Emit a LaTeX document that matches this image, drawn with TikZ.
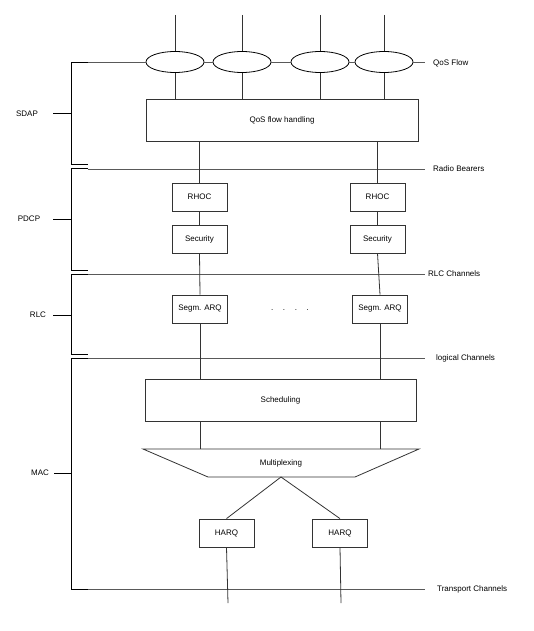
\documentclass[tikz,border=0pt]{standalone}
\usepackage{fontspec}
\setmainfont{Liberation Sans}
\usetikzlibrary{shapes.geometric}

\begin{document}
\begin{tikzpicture}[x=1pt, y=-1pt, font=\fontsize{8}{10}\selectfont,
	block/.style={draw=black!80, line width=0.8pt, inner sep=0pt, minimum width=55pt, minimum height=28pt},
	bigblock/.style={block, minimum width=272pt, minimum height=42pt},
	flow/.style={ellipse, draw=black, line width=0.8pt, inner sep=0pt, minimum width=58pt, minimum height=21pt},
	link/.style={draw=black!80, line width=0.8pt},
	channel/.style={draw=black!65, line width=0.9pt},
	bracket/.style={draw=black, line width=1pt},
	chlabel/.style={anchor=west, inner sep=0pt}]
\useasboundingbox (0,0) rectangle (534,631);

% Schichten links
\begin{scope}[bracket]
	\draw (88,63) -- (71,63) -- (71,165) -- (88,165);
	\draw (71,114) -- (53,114);
	\draw (88,169) -- (71,169) -- (71,270) -- (88,270);
	\draw (71,219) -- (53,219);
	\draw (88,274) -- (71,274) -- (71,354) -- (88,354);
	\draw (71,315) -- (53,315);
	\draw (88,358) -- (71,358) -- (71,589) -- (88,589);
	\draw (71,473) -- (54,473);
\end{scope}
\node (sdap) at (27,114) {SDAP};
\node (pdcp) at (29,219) {PDCP};
\node (rlc) at (38,315) {RLC};
\node (mac) at (40,473) {MAC};

% Kanaele
\begin{scope}[channel]
	\draw (88,169) -- (425,169);
	\draw (88,274) -- (425,274);
	\draw (88,358) -- (425,358);
	\draw (88,589) -- (425,589);
\end{scope}
\node[chlabel] (qfl) at (433,63) {QoS Flow};
\node[chlabel] (rbl) at (433,169) {Radio Bearers};
\node[chlabel] (rcl) at (428,274) {RLC Channels};
\node[chlabel] (lcl) at (436,358) {logical Channels};
\node[chlabel] (tcl) at (437,589) {Transport Channels};

% SDAP
\node[flow] (f1) at (175,62) {};
\node[flow] (f2) at (242,62) {};
\node[flow] (f3) at (320,62) {};
\node[flow] (f4) at (384,62) {};
\node[bigblock] (qos) at (282,120) {QoS flow handling};
\coordinate (t1) at (175,15);
\coordinate (t2) at (242,15);
\coordinate (t3) at (320,15);
\coordinate (t4) at (384,15);
\coordinate (qosL) at (88,62);
\coordinate (qosR) at (425,62);
\begin{scope}[channel]
	\draw (qosL) -- (f1.west);
	\draw (f1.east) -- (f2.west);
	\draw (f2.east) -- (f3.west);
	\draw (f3.east) -- (f4.west);
	\draw (f4.east) -- (qosR);
\end{scope}
\begin{scope}[link]
	\draw (t1) -- (f1.north);
	\draw (t2) -- (f2.north);
	\draw (t3) -- (f3.north);
	\draw (t4) -- (f4.north);
	\draw (f1.south) -- (f1 |- qos.north);
	\draw (f2.south) -- (f2 |- qos.north);
	\draw (f3.south) -- (f3 |- qos.north);
	\draw (f4.south) -- (f4 |- qos.north);
\end{scope}

% PDCP und RLC
\node[block] (rhoc1) at (199.5,197) {RHOC};
\node[block] (rhoc2) at (377.5,197) {RHOC};
\node[block] (sec1) at (199.5,239) {Security};
\node[block] (sec2) at (377.5,239) {Security};
\node[block] (arq1) at (200,309) {Segm. ARQ};
\node[block] (arq2) at (380,309) {Segm. ARQ};
\node (dots) at (290,310) {.\hspace{1.2em}.\hspace{1.2em}.\hspace{1.2em}.};
\begin{scope}[link]
	\draw (rhoc1 |- qos.south) -- (rhoc1.north);
	\draw (rhoc2 |- qos.south) -- (rhoc2.north);
	\draw (rhoc1.south) -- (sec1.north);
	\draw (rhoc2.south) -- (sec2.north);
	\draw (sec1.south) -- (arq1.north);
	\draw (sec2.south) -- (arq2.north);
\end{scope}

% MAC
\node[bigblock, minimum width=271pt] (sched) at (280.5,400) {Scheduling};
\coordinate (muxTL) at (143,449);
\coordinate (muxTR) at (419,449);
\coordinate (muxBR) at (355,477);
\coordinate (muxBL) at (208,477);
\coordinate (muxB) at (281,477);
\draw[link] (muxTL) -- (muxTR) -- (muxBR) -- (muxBL) -- cycle;
\node (mux) at (281,463) {Multiplexing};
\node[block] (harq1) at (226.5,533) {HARQ};
\node[block] (harq2) at (340,533) {HARQ};
\coordinate (b1) at (228,603);
\coordinate (b2) at (341,603);
\begin{scope}[link]
	\draw (arq1.south) -- (arq1 |- sched.north);
	\draw (arq2.south) -- (arq2 |- sched.north);
	\draw (arq1 |- sched.south) -- (arq1 |- muxTL);
	\draw (arq2 |- sched.south) -- (arq2 |- muxTL);
	\draw (muxB) -- (harq1.north);
	\draw (muxB) -- (harq2.north);
	\draw (harq1.south) -- (b1);
	\draw (harq2.south) -- (b2);
\end{scope}
\end{tikzpicture}
\end{document}
